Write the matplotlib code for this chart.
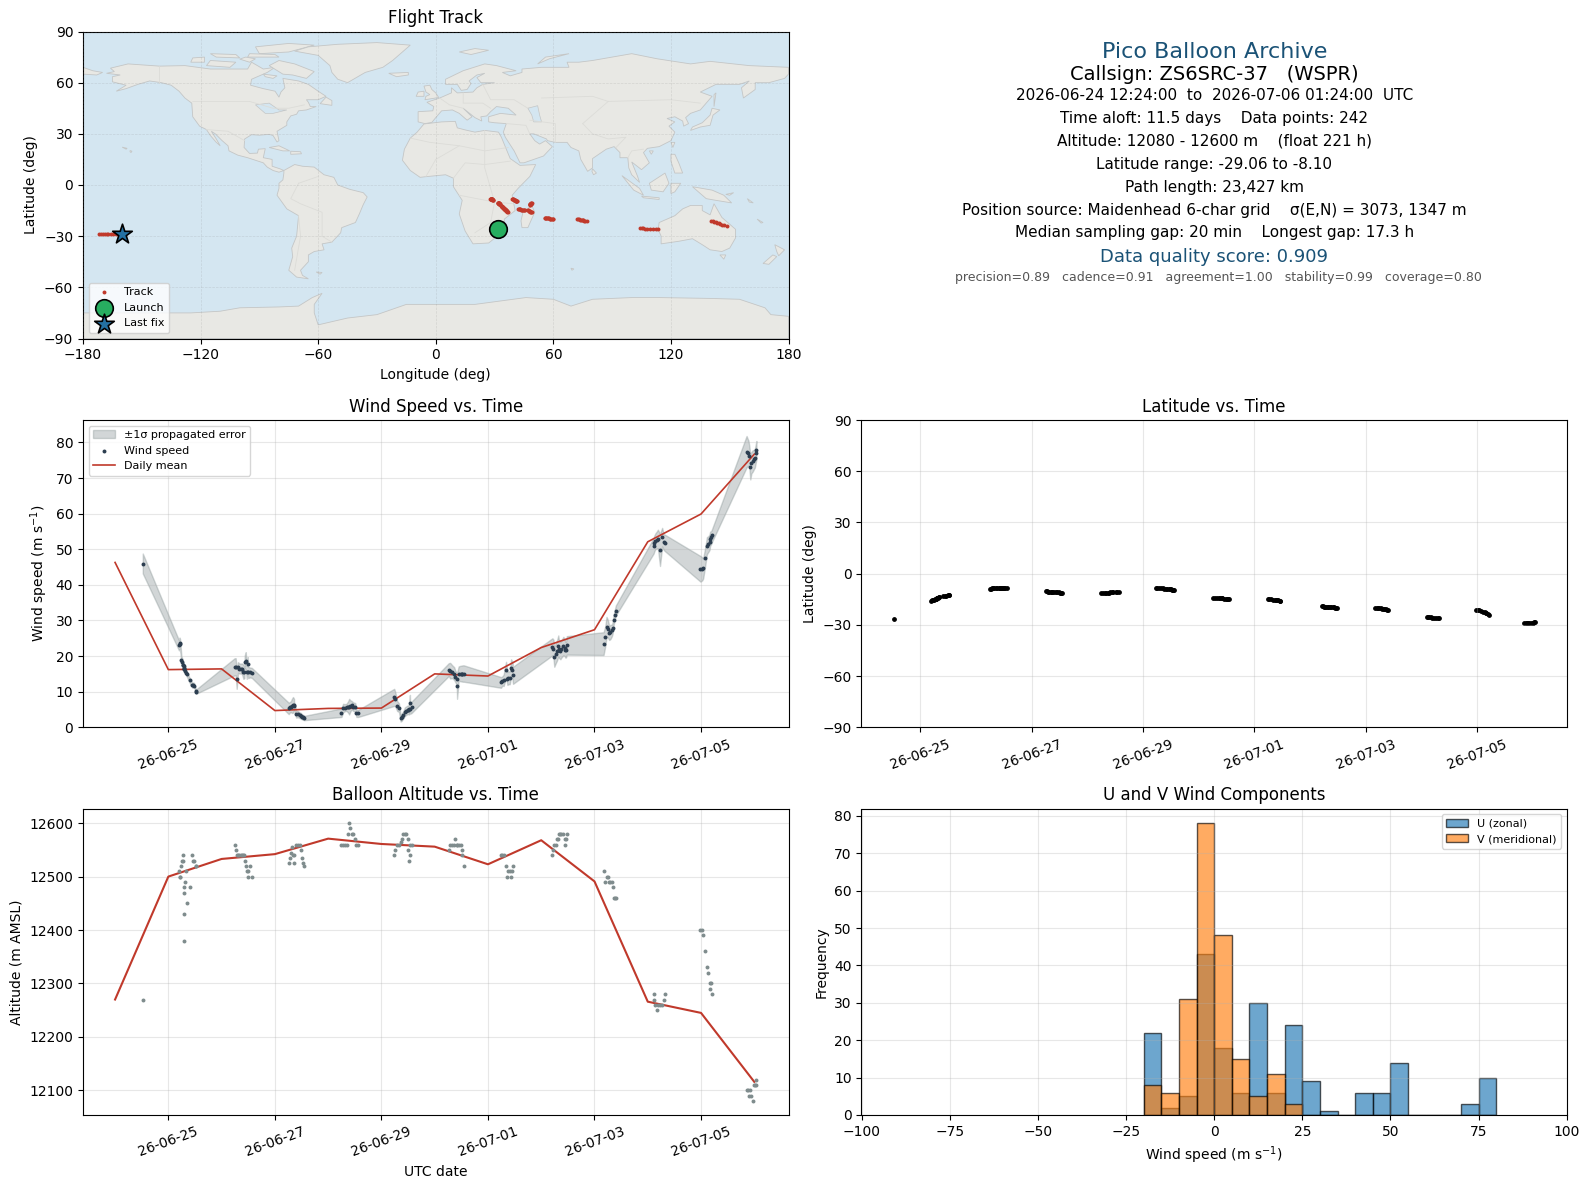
#!/usr/bin/env python3
"""Pico balloon flight summary: track map, info text, wind, latitude, altitude, U/V histogram."""
from datetime import datetime

import matplotlib
matplotlib.use("Agg")
import matplotlib.dates as mdates
import matplotlib.pyplot as plt
from matplotlib.patches import Polygon

# sample times as day numbers counted from 1 June (31 = 1 July), one line per daily cluster
time_days = [
    24.52,
    25.20, 25.21, 25.22, 25.245, 25.26, 25.28, 25.28, 25.285, 25.30, 25.30, 25.302, 25.32, 25.34, 25.345, 25.40, 25.45, 25.47, 25.49, 25.51, 25.52,
    26.245, 26.264, 26.283, 26.308, 26.333, 26.358, 26.384, 26.409, 26.428, 26.434, 26.453, 26.472, 26.49, 26.497, 26.528, 26.566,
    27.26, 27.28, 27.30, 27.32, 27.34, 27.36, 27.36, 27.40, 27.43, 27.465, 27.49, 27.51, 27.53, 27.547,
    28.25, 28.28, 28.31, 28.345, 28.375, 28.395, 28.415, 28.44, 28.47, 28.51, 28.53, 28.565,
    29.24, 29.26, 29.295, 29.33, 29.36, 29.38, 29.41, 29.44, 29.47, 29.49, 29.50, 29.52, 29.535, 29.54, 29.565,
    30.264, 30.29, 30.33, 30.365, 30.39, 30.415, 30.42, 30.45, 30.49, 30.51, 30.52, 30.547,
    31.245, 31.27, 31.295, 31.34, 31.365, 31.385, 31.41, 31.434, 31.46, 31.47,
    32.21, 32.23, 32.245, 32.27, 32.295, 32.32, 32.33, 32.36, 32.38, 32.415, 32.44, 32.45, 32.465, 32.48,
    33.17, 33.20, 33.226, 33.25, 33.277, 33.30, 33.327, 33.34, 33.36, 33.38, 33.40,
    34.11, 34.125, 34.145, 34.17, 34.19, 34.23, 34.27, 34.30, 34.32,
    34.99, 35.025, 35.04, 35.075, 35.11, 35.14, 35.16, 35.17, 35.195, 35.21,
    35.855, 35.89, 35.905, 35.925, 35.945, 35.97, 36.0, 36.01, 36.03, 36.04,
]
wind_speed = [
    46.0,
    23.0, 23.6, 23.4, 19.0, 18.4, 17.6, 17.5, 17.3, 16.6, 16.5, 16.4, 15.8, 15.2, 15.0, 13.2, 11.8, 11.9, 11.7, 10.3, 10.0,
    17.0, 17.0, 13.6, 16.8, 16.5, 16.5, 16.4, 15.6, 15.4, 18.4, 18.7, 15.4, 17.9, 15.4, 15.4, 15.3,
    5.3, 5.6, 5.8, 6.0, 6.3, 6.4, 6.0, 3.7, 3.7, 3.4, 3.2, 2.9, 2.8, 2.6,
    4.1, 5.4, 5.5, 5.6, 5.7, 5.8, 6.0, 6.2, 5.8, 5.6, 3.9, 3.9,
    8.4, 7.9, 6.0, 5.5, 2.5, 2.8, 3.5, 4.4, 4.7, 4.9, 4.9, 5.0, 6.9, 5.2, 5.6,
    16.2, 15.9, 15.6, 15.1, 14.2, 13.7, 11.6, 15.1, 15.1, 15.1, 15.1, 15.1,
    12.6, 13.0, 13.2, 16.2, 13.7, 13.9, 13.9, 16.7, 16.0, 14.6,
    22.6, 22.0, 19.8, 20.7, 21.5, 22.8, 22.1, 21.5, 22.0, 22.8, 22.4, 21.8, 21.8, 23.0,
    23.5, 25.4, 28.2, 27.7, 26.5, 26.8, 27.2, 27.9, 30.2, 31.5, 32.8,
    51.0, 51.7, 52.3, 52.6, 52.9, 49.8, 53.4, 52.0, 51.8,
    44.5, 44.5, 44.6, 47.6, 51.0, 51.5, 52.0, 52.9, 53.4, 54.0,
    77.4, 77.0, 76.2, 73.0, 74.3, 74.8, 75.3, 75.5, 77.1, 77.8,
]
wind_err = [
    2.8,
    1.4, 1.6, 1.4, 1.0, 1.0, 0.8, 0.8, 0.8, 0.8, 0.8, 0.8, 0.7, 0.7, 0.7, 0.7, 0.7, 0.7, 0.6, 0.6, 0.6,
    2.4, 2.4, 2.8, 1.5, 1.4, 1.4, 1.5, 2.0, 1.6, 1.8, 2.4, 1.8, 1.8, 1.6, 1.4, 1.4,
    1.6, 1.5, 1.5, 2.0, 2.2, 1.6, 1.2, 1.0, 0.9, 0.8, 0.8, 0.7, 0.7, 0.6,
    1.2, 1.2, 1.0, 1.0, 1.6, 2.2, 1.6, 1.2, 1.2, 1.2, 1.0, 1.0,
    2.4, 2.0, 1.4, 1.2, 0.9, 1.0, 1.0, 1.2, 1.2, 1.2, 1.2, 1.4, 2.2, 1.4, 1.6,
    1.8, 2.2, 1.8, 1.8, 1.6, 1.8, 3.6, 2.0, 2.2, 2.2, 2.3, 2.3,
    1.5, 1.3, 1.6, 2.2, 1.8, 1.8, 1.8, 2.4, 2.4, 2.4,
    2.4, 2.6, 2.8, 2.8, 2.8, 3.0, 2.6, 2.4, 2.4, 2.6, 2.4, 2.2, 2.2, 2.6,
    3.2, 2.8, 2.8, 2.5, 2.0, 2.0, 1.6, 1.6, 1.4, 1.4, 1.4,
    2.2, 2.2, 2.2, 2.4, 2.6, 4.5, 2.6, 2.2, 2.3,
    3.6, 3.2, 2.8, 2.6, 2.4, 2.2, 2.2, 2.0, 1.8, 1.8,
    4.4, 3.5, 3.0, 3.4, 3.0, 3.0, 2.6, 2.6, 2.6, 2.6,
]
altitude = [
    12270,
    12510, 12500, 12500, 12520, 12530, 12530, 12540, 12430, 12480, 12470, 12380, 12490, 12510, 12450, 12480, 12540, 12530, 12530, 12520, 12520,
    12560, 12550, 12540, 12540, 12540, 12540, 12540, 12540, 12540, 12530, 12520, 12510, 12510, 12500, 12520, 12500,
    12525, 12535, 12545, 12555, 12540, 12540, 12525, 12560, 12560, 12560, 12550, 12535, 12525, 12520,
    12560, 12560, 12560, 12560, 12580, 12600, 12590, 12580, 12580, 12570, 12560, 12560,
    12540, 12550, 12560, 12560, 12565, 12570, 12580, 12580, 12580, 12570, 12550, 12530, 12560, 12540, 12560,
    12550, 12560, 12560, 12560, 12570, 12560, 12560, 12560, 12560, 12550, 12540, 12520,
    12540, 12540, 12540, 12520, 12500, 12510, 12510, 12500, 12510, 12520,
    12540, 12550, 12560, 12560, 12570, 12570, 12580, 12580, 12580, 12580, 12570, 12560, 12570, 12580,
    12510, 12490, 12500, 12500, 12490, 12490, 12490, 12480, 12460, 12460, 12460,
    12270, 12280, 12260, 12250, 12260, 12260, 12260, 12270, 12280,
    12400, 12400, 12390, 12360, 12330, 12320, 12300, 12290, 12300, 12280,
    12100, 12100, 12090, 12100, 12090, 12080, 12110, 12110, 12120, 12110,
]
latitude = [
    -26.3,
    -15.8, -15.6, -15.4, -15.2, -15.0, -14.8, -14.7, -14.6, -14.4, -14.3, -14.2, -14.0, -13.8, -13.7, -13.3, -13.0, -12.9, -12.7, -12.6, -12.5,
    -8.8, -8.7, -8.6, -8.6, -8.5, -8.5, -8.4, -8.4, -8.3, -8.3, -8.3, -8.2, -8.2, -8.3, -8.2, -8.3,
    -10.4, -10.4, -10.5, -10.5, -10.6, -10.6, -10.7, -10.8, -10.9, -10.9, -11.0, -11.1, -11.1, -11.2,
    -11.6, -11.5, -11.4, -11.3, -11.2, -11.1, -11.0, -11.0, -10.9, -10.8, -10.8, -10.7,
    -8.3, -8.3, -8.4, -8.5, -8.6, -8.7, -8.8, -8.9, -9.0, -9.1, -9.2, -9.3, -9.4, -9.5, -9.6,
    -14.0, -14.1, -14.2, -14.3, -14.3, -14.4, -14.5, -14.6, -14.7, -14.8, -14.8, -14.9,
    -14.8, -14.9, -15.0, -15.2, -15.3, -15.5, -15.6, -15.7, -15.9, -16.0,
    -19.2, -19.2, -19.3, -19.3, -19.4, -19.5, -19.6, -19.6, -19.7, -19.8, -19.8, -19.9, -19.9, -20.0,
    -20.0, -20.1, -20.2, -20.3, -20.4, -20.5, -20.6, -20.7, -20.9, -21.0, -21.2,
    -25.3, -25.4, -25.5, -25.6, -25.7, -25.8, -25.9, -25.8, -25.7,
    -21.0, -21.3, -21.5, -21.8, -22.2, -22.5, -22.8, -23.2, -23.6, -24.0,
    -29.0, -29.0, -29.0, -28.9, -28.9, -28.8, -28.7, -28.7, -28.6, -28.5,
]
longitude = [
    31.7,
    36.8, 36.6, 36.5, 36.2, 36.0, 35.8, 35.7, 35.6, 35.4, 35.3, 35.2, 35.0, 34.8, 34.7, 34.5, 34.2, 34.0, 33.9, 33.7, 33.5,
    29.2, 29.1, 29.0, 28.9, 28.8, 28.7, 28.6, 28.5, 28.4, 28.4, 28.3, 28.2, 28.1, 28.1, 28.0, 27.8,
    31.8, 31.9, 32.0, 32.0, 32.1, 32.2, 32.2, 32.3, 32.4, 32.4, 32.5, 32.6, 32.7, 32.8,
    48.0, 48.0, 48.1, 48.1, 48.2, 48.3, 48.4, 48.5, 48.6, 48.7, 48.8, 49.0,
    39.0, 39.2, 39.4, 39.6, 39.8, 40.0, 40.2, 40.3, 40.5, 40.7, 40.8, 41.0, 41.2, 41.3, 41.5,
    42.0, 42.3, 42.6, 42.9, 43.2, 43.5, 43.8, 44.1, 44.5, 44.9, 45.2, 45.5,
    47.0, 47.2, 47.4, 47.6, 47.8, 48.0, 48.2, 48.5, 48.8, 49.0,
    55.5, 55.8, 56.1, 56.5, 56.8, 57.1, 57.4, 57.8, 58.1, 58.5, 58.9, 59.2, 59.6, 60.0,
    72.0, 72.5, 73.0, 73.5, 74.0, 74.4, 74.9, 75.3, 75.9, 76.4, 77.0,
    104, 105, 106, 107, 108, 109.5, 111, 112.5, 113.5,
    140.5, 141.3, 142, 142.8, 143.6, 144.4, 145.2, 146, 147.2, 148.5,
    -172, -171, -170, -169, -168, -167, -165.5, -164.5, -163, -162,
]

daily_days = [24, 25, 26, 27, 28, 29, 30, 31, 32, 33, 34, 35, 36]
daily_wind = [46.3, 16.2, 16.4, 4.7, 5.3, 5.4, 15.0, 14.4, 22.4, 27.4, 52.1, 59.9, 76.7]
daily_alt = [12270, 12500, 12533, 12542, 12571, 12561, 12556, 12523, 12568, 12491, 12266, 12245, 12116]

launch_lon, launch_lat = 31.7, -26.0
last_lon, last_lat = -160.0, -29.0

hist_edges = [-20, -15, -10, -5, 0, 5, 10, 15, 20, 25, 30, 35, 40, 45, 50, 55, 60, 65, 70, 75]
u_counts = [22, 2, 5, 43, 18, 6, 30, 6, 24, 9, 1, 0, 6, 6, 14, 0, 0, 0, 3, 10]
v_counts = [8, 6, 31, 78, 48, 15, 5, 11, 3, 0, 0, 0, 0, 0, 0, 0, 0, 0, 0, 0]

info_lines = [
    ("Pico Balloon Archive", 16, "#1a5276", 52.5),
    ("Callsign: ZS6SRC-37   (WSPR)", 14, "black", 74),
    ("2026-06-24 12:24:00  to  2026-07-06 01:24:00  UTC", 11, "black", 96),
    ("Time aloft: 11.5 days    Data points: 242", 11, "black", 118.5),
    ("Altitude: 12080 - 12600 m    (float 221 h)", 11, "black", 141),
    ("Latitude range: -29.06 to -8.10", 11, "black", 164),
    ("Path length: 23,427 km", 11, "black", 187.5),
    ("Position source: Maidenhead 6-char grid    σ(E,N) = 3073, 1347 m", 11, "black", 210),
    ("Median sampling gap: 20 min    Longest gap: 17.3 h", 11, "black", 233),
    ("Data quality score: 0.909", 13, "#1a5276", 257.5),
    ("  precision=0.89   cadence=0.91   agreement=1.00   stability=0.99   coverage=0.80", 9, "#555555", 278),
]

# rough coastlines, lon/lat
land = [
    # north america
    [(-168, 65.5), (-164, 66.5), (-166, 68.5), (-157, 71), (-141, 69.7), (-128, 70), (-115, 68), (-108, 68), (-96, 68), (-94, 72),
     (-88, 68), (-82, 69), (-86, 66), (-94, 62), (-94.5, 58.5), (-88, 56.5), (-82, 55), (-80, 51.5), (-79, 54.5), (-77, 57),
     (-78, 62.5), (-70, 61), (-65, 59), (-60, 55), (-56, 52), (-60, 50), (-66, 50), (-65, 48.5), (-64, 46), (-61, 46),
     (-66, 44), (-70, 43.5), (-71, 41.5), (-74, 40.5), (-76, 37), (-76, 35), (-81, 31.5), (-80, 26), (-81, 25.2), (-83, 29),
     (-85, 29.7), (-90, 29.2), (-94, 29.5), (-97.5, 27), (-97.8, 22), (-95, 18.5), (-91, 18.7), (-90.5, 21), (-87, 21.3), (-88, 16),
     (-83.5, 15), (-83.5, 11), (-79.5, 9.5), (-77.5, 8.5), (-80, 7.5), (-83, 8.5), (-86, 10.5), (-88, 13), (-92, 14.5), (-96, 16),
     (-101, 17.5), (-105.5, 20), (-106, 23), (-109, 26), (-112.5, 30), (-114.5, 31.5), (-112, 27), (-110, 23), (-112, 25), (-115, 29),
     (-117, 32.5), (-120.5, 34.5), (-124, 40), (-124.5, 48), (-128, 51), (-131, 55), (-135, 58.5), (-140, 60), (-146, 61), (-152, 59),
     (-158, 56.5), (-163, 55), (-158, 58.5), (-165, 60.5), (-165, 63.5), (-161, 64.5)],
    # canadian arctic + newfoundland
    [(-80, 73), (-72, 71), (-62, 66.5), (-66, 62.5), (-73, 64.5), (-78, 65), (-85, 70)],
    [(-117, 70), (-105, 69), (-102, 72), (-115, 73)],
    [(-90, 77), (-75, 78), (-62, 82), (-75, 83), (-92, 81)],
    [(-125, 72), (-118, 72), (-118, 75), (-124, 74.5)],
    [(-96, 75), (-80, 75), (-82, 76.5), (-95, 77)],
    [(-112, 75), (-100, 74.5), (-102, 76.5), (-115, 77)],
    [(-100, 73.8), (-95, 72), (-92, 74), (-97, 75)],
    [(-88, 65), (-81, 64), (-83, 62.5), (-87, 63.5)],
    [(-59, 47.7), (-53, 46.7), (-53, 49.5), (-56, 51.5)],
    # greenland, iceland
    [(-72, 78.5), (-65, 81), (-50, 82.5), (-30, 83.5), (-13, 82), (-18, 77), (-22, 73), (-27, 69), (-36, 66), (-42, 62),
     (-45, 60), (-50, 62), (-53, 66), (-54, 70), (-60, 76)],
    [(-24, 65.5), (-14, 66), (-14, 64.5), (-20, 63.5)],
    # pacific and atlantic specks
    [(-156, 20.2), (-155, 19.8), (-155.5, 19), (-156, 19.5)],
    [(-160, 22.2), (-157.5, 21.5), (-158, 21)],
    [(-61, -51), (-58, -51.3), (-59, -52.3)],
    # caribbean
    [(-85, 22), (-80, 23), (-74.5, 20), (-78, 20)],
    [(-74, 19.8), (-69, 19.5), (-68.5, 18.3), (-74, 18)],
    # south america
    [(-77.5, 8.5), (-72, 12), (-68, 11), (-62, 10.5), (-57, 6), (-52, 4.5), (-50, 0), (-44, -2.5), (-37, -4.5), (-35, -7),
     (-37, -11.5), (-39, -17), (-41, -22), (-48, -25), (-48.5, -28), (-53, -33.5), (-58, -34.5), (-57, -38), (-62, -39), (-65, -41),
     (-65, -45), (-69, -50), (-68, -53), (-65, -55), (-71, -54), (-75, -50), (-73, -42), (-73.5, -37), (-71, -30), (-70, -18),
     (-76, -14), (-81, -6), (-80, -2), (-80, 1), (-78, 3), (-77.5, 7)],
    # africa
    [(-6, 35.8), (3, 37), (10, 37.3), (11, 33.5), (15, 32.3), (20, 31), (25, 32), (32, 31), (33.5, 28), (36, 21),
     (38, 15.5), (43, 11.5), (51, 12), (48, 5), (42, -2), (39, -6), (40.5, -15), (35, -20), (35, -24), (32.5, -29),
     (27, -34), (19, -34.5), (15, -27), (12, -17), (13.5, -9), (9, -1), (9, 4), (5, 6), (-4, 5), (-8, 4.5),
     (-13, 8.5), (-17, 14.5), (-16, 21), (-13, 27.5), (-9.5, 31)],
    [(49, -12), (50.5, -16), (47, -25), (44, -25), (43.5, -21), (44.5, -16)],
    [(69, -48.8), (70.5, -49.2), (69.5, -50)],
    # eurasia
    [(-9, 37), (-9, 43), (-1.5, 43.5), (-1, 46), (-4.5, 48.5), (2, 51), (8, 54), (8, 57), (11, 54), (19, 54.5),
     (21, 57), (24, 59), (30, 60), (23, 60), (21, 63), (25, 65.5), (21, 64.5), (17, 61), (18, 59.5), (16, 56),
     (13, 55.5), (11, 59), (5, 59), (5, 62), (14, 67), (25, 71), (31, 70), (41, 67), (34, 66), (38, 64),
     (44, 66), (44, 68), (54, 69), (68, 69), (67, 72), (73, 72), (80, 73), (100, 77), (113, 74), (130, 71),
     (140, 72.5), (160, 70), (180, 69), (180, 65), (178, 62.5), (170, 60), (163, 60), (163, 56), (157, 51), (156, 57),
     (160, 61), (155, 59), (143, 59), (135, 54.5), (141, 52), (135, 44), (130, 42), (127.5, 39.5), (129, 36), (126.5, 34.5),
     (126, 37.5), (122, 40), (118, 39), (122, 37), (119, 34.5), (122, 31), (120, 26), (114, 22.5), (108, 21.5), (106, 19),
     (109, 13), (105, 9), (100, 13.5), (103, 5), (104, 1.5), (100, 6), (98.5, 10), (98, 16), (94, 16), (94, 19),
     (91, 22.5), (87, 21), (80, 15.5), (80, 10), (77.5, 8), (74, 15), (73, 20), (69, 22), (67, 25), (61, 25),
     (57, 26), (56.5, 27), (50, 30), (48, 30), (50.5, 26), (53, 24), (56, 26), (59.5, 22.5), (55, 17), (45, 13),
     (43, 13), (40, 20), (35.5, 28), (34.5, 31), (36, 36), (30, 36.5), (27, 37), (27, 40), (33, 42), (41, 41),
     (37, 45), (31, 46), (28, 43), (26, 40.5), (23, 40), (23.5, 37.5), (20, 39.5), (14, 45), (18.5, 40), (16, 38),
     (12, 42), (8.5, 44), (3, 43.5), (0, 39.5), (-2, 36.7), (-5.5, 36)],
    [(-180, 69), (-175, 67), (-170, 66), (-173, 64.5), (-180, 65)],
    # islands around europe and asia
    [(-5.5, 50), (1.5, 51.3), (0, 54), (-2, 56), (-3, 58.5), (-6, 58), (-5, 54.5), (-3, 53), (-5, 52)],
    [(-10, 52), (-6, 52), (-6, 55), (-9, 54.5)],
    [(12, 78), (20, 80), (27, 79), (18, 76.5)],
    [(52, 71), (56, 75), (68, 77), (58, 74)],
    [(130, 32), (135, 34), (140, 35), (141.5, 41), (145, 44), (141, 45), (140, 41), (136, 36.5), (131, 34)],
    [(142, 46), (143, 54), (142, 53)],
    [(80, 9.5), (82, 7), (80.5, 6), (79.7, 8)],
    [(120, 25), (122, 25), (121, 22)],
    [(109, 20), (111, 20), (110, 18)],
    [(120, 18), (122, 18), (124, 13), (126, 7), (122, 7), (120, 14)],
    [(109, 1), (117, 7), (119, 1), (116, -4), (110, -3)],
    [(95, 5.5), (104, -2), (106, -6), (101, -3)],
    [(105, -6.5), (114, -7.5), (114, -8.5), (106, -7.5)],
    [(120, -5), (120, 1), (125, 1), (122, -4)],
    [(131, -1), (141, -3), (147, -6), (151, -10.5), (143, -9), (138, -8), (134, -4)],
    [(150, -6), (152, -4.5), (148, -5.5)],
    [(159, -8), (162, -10.5), (160, -10)],
    # australia, nz
    [(114, -22), (122, -18), (126, -14), (130, -12), (136, -12), (136, -15), (140, -17.5), (142, -11), (146, -19), (153, -26),
     (153, -31), (150, -37), (146, -39), (140, -38), (136, -35), (131, -31.5), (124, -33), (115, -34.5), (115, -30), (113.5, -26)],
    [(145, -41), (148, -41), (147, -43.5)],
    [(164, -20), (167, -22), (166, -22.3)],
    [(173, -35), (178, -38), (175, -41.5), (174, -39)],
    [(172, -41), (174, -42), (170, -46.5), (167, -46)],
    # antarctica
    [(-180, -90), (-180, -75), (-125, -75), (-110, -74), (-100, -72), (-80, -71.5), (-70, -71), (-63, -66), (-58, -63.5), (-62, -70),
     (-62, -75), (-60, -82), (-45, -78), (-30, -76), (-15, -70), (0, -70), (20, -70), (46, -66), (60, -67), (69, -71),
     (80, -67), (100, -66), (114, -66), (140, -66.5), (155, -67), (168, -72), (171, -76), (180, -77), (180, -90)],
]
lakes = [
    [(47, 45), (52, 46.5), (53, 41), (54, 37), (50, 37), (49, 41)],
    [(-92, 47), (-85, 48), (-80, 44), (-76, 44), (-83, 42), (-87, 42)],
]
# a few faint country borders
borders = [
    [(-141, 69.7), (-141, 60)],
    [(-124, 49), (-95, 49), (-83, 45), (-75, 45), (-67, 47)],
    [(-117, 32.5), (-106, 31.5), (-97.5, 26)],
    [(-70, -18), (-69, -30), (-72, -50)],
    [(-70, 1), (-74, -8), (-69, -11), (-58, -16), (-58, -30), (-53, -33.5)],
    [(-60, 5), (-70, 1)],
    [(-13, 27.5), (-3, 25), (12, 23), (25, 20), (37, 22)],
    [(25, 32), (25, 10), (30, -10), (28, -22), (20, -28)],
    [(-5, 5), (0, 15), (12, 23)],
    [(12, -6), (30, -10), (40, -11)],
    [(9, 4), (15, 13), (25, 12), (38, 14)],
    [(2, 51), (7, 47), (14, 45)],
    [(14, 54), (14, 48), (24, 48), (28, 45)],
    [(24, 59), (28, 50), (40, 50), (47, 45)],
    [(54, 51), (80, 52), (88, 49), (120, 50), (135, 48)],
    [(61, 25), (61, 36), (48, 38)],
    [(75, 36), (80, 30), (88, 27), (97, 28), (92, 22)],
    [(75, 36), (88, 49)],
    [(106, 21), (100, 20), (98, 16)],
    [(36, 36), (46, 35), (48, 30)],
]

PAD_W, PAD_H = 1589, 1189
RED = "#c0392b"


def axes_px(left, top, right, bottom):
    return fig.add_axes([left / PAD_W, 1 - bottom / PAD_H, (right - left) / PAD_W, (bottom - top) / PAD_H])


def to_dates(days):
    base = mdates.date2num(datetime(2026, 6, 1))
    return [base + d - 1 for d in days]


def date_axis(ax):
    ax.xaxis.set_major_locator(mdates.DayLocator(bymonthday=[25, 27, 29, 1, 3, 5]))
    ax.xaxis.set_major_formatter(mdates.DateFormatter("%y-%m-%d"))
    ax.tick_params(axis="x", rotation=20)
    ax.grid(True, alpha=0.3)


fig = plt.figure(figsize=(15.89, 11.89), dpi=100)
t = to_dates(time_days)
t_daily = to_dates(daily_days)

# flight track
ax_map = axes_px(83, 31.5, 788.5, 338.5)
ax_map.set_facecolor("#d4e6f1")
for poly in land:
    ax_map.add_patch(Polygon(poly, closed=True, facecolor="#e8e8e4", edgecolor="#c4c6c6", linewidth=0.6, zorder=1))
for poly in lakes:
    ax_map.add_patch(Polygon(poly, closed=True, facecolor="#d4e6f1", edgecolor="#c4c6c6", linewidth=0.5, zorder=1.1))
for line in borders:
    ax_map.plot([p[0] for p in line], [p[1] for p in line], color="#dcdcd8", lw=0.6, zorder=1.2)
ax_map.scatter(longitude, latitude, s=8, color=RED, linewidths=0, zorder=4, label="Track")
ax_map.scatter([launch_lon], [launch_lat], s=160, color="#27ae60", edgecolor="black", linewidth=1.2, zorder=5, label="Launch")
ax_map.scatter([last_lon], [last_lat], s=220, marker="*", color="#2471a3", edgecolor="black", linewidth=1.2, zorder=5, label="Last fix")
ax_map.set_xlim(-180, 180)
ax_map.set_ylim(-90, 90)
ax_map.set_xticks(range(-180, 181, 60))
ax_map.set_yticks(range(-90, 91, 30))
ax_map.grid(True, color="gray", alpha=0.2, linestyle="--", linewidth=0.5, zorder=2)
ax_map.set_axisbelow(False)
ax_map.set_xlabel("Longitude (deg)")
ax_map.set_ylabel("Latitude (deg)")
ax_map.set_title("Flight Track")
ax_map.legend(loc="lower left", fontsize=8)

# summary text
for text, size, color, y_px in info_lines:
    fig.text(1214.5 / PAD_W, 1 - y_px / PAD_H, text, fontsize=size, color=color, ha="center", va="center")

# wind speed
ax_wind = axes_px(83, 420, 788.5, 727.3)
low = [v - e for v, e in zip(wind_speed, wind_err)]
high = [v + e for v, e in zip(wind_speed, wind_err)]
ax_wind.fill_between(t, low, high, color="#7f8c8d", alpha=0.35, label="±1σ propagated error")
ax_wind.scatter(t, wind_speed, s=8, color="#2c3e50", linewidths=0, zorder=3, label="Wind speed")
ax_wind.plot(t_daily, daily_wind, color=RED, lw=1.2, label="Daily mean")
ax_wind.set_ylim(0, 86.3)
ax_wind.set_ylabel("Wind speed (m s$^{-1}$)")
ax_wind.set_title("Wind Speed vs. Time")
ax_wind.legend(loc="upper left", fontsize=8)
date_axis(ax_wind)

# latitude
ax_lat = axes_px(861.5, 420, 1566.8, 727.3)
ax_lat.scatter(t, latitude, s=6, color="black")
ax_lat.set_ylim(-90, 90)
ax_lat.set_yticks(range(-90, 91, 30))
ax_lat.set_ylabel("Latitude (deg)")
ax_lat.set_title("Latitude vs. Time")
date_axis(ax_lat)

# altitude
ax_alt = axes_px(83, 808.7, 788.5, 1115)
ax_alt.scatter(t, altitude, s=8, color="#7f8c8d", linewidths=0, zorder=3)
ax_alt.plot(t_daily, daily_alt, color=RED, lw=1.5)
ax_alt.set_ylim(12054, 12627)
ax_alt.set_xlabel("UTC date")
ax_alt.set_ylabel("Altitude (m AMSL)")
ax_alt.set_title("Balloon Altitude vs. Time")
date_axis(ax_alt)

# wind components
ax_hist = axes_px(861.5, 808.7, 1566.8, 1115)
ax_hist.bar(hist_edges, u_counts, width=5, align="edge", color="#1f77b4", alpha=0.65, edgecolor="black", label="U (zonal)")
ax_hist.bar(hist_edges, v_counts, width=5, align="edge", color="#ff7f0e", alpha=0.65, edgecolor="black", label="V (meridional)")
ax_hist.set_xlim(-100, 100)
ax_hist.set_ylim(0, 81.9)
ax_hist.set_yticks(range(0, 81, 10))
ax_hist.set_xlabel("Wind speed (m s$^{-1}$)")
ax_hist.set_ylabel("Frequency")
ax_hist.set_title("U and V Wind Components")
ax_hist.legend(loc="upper right", fontsize=8)
ax_hist.grid(True, alpha=0.3)

fig.savefig("out.png", dpi=100)
print("wrote out.png")
